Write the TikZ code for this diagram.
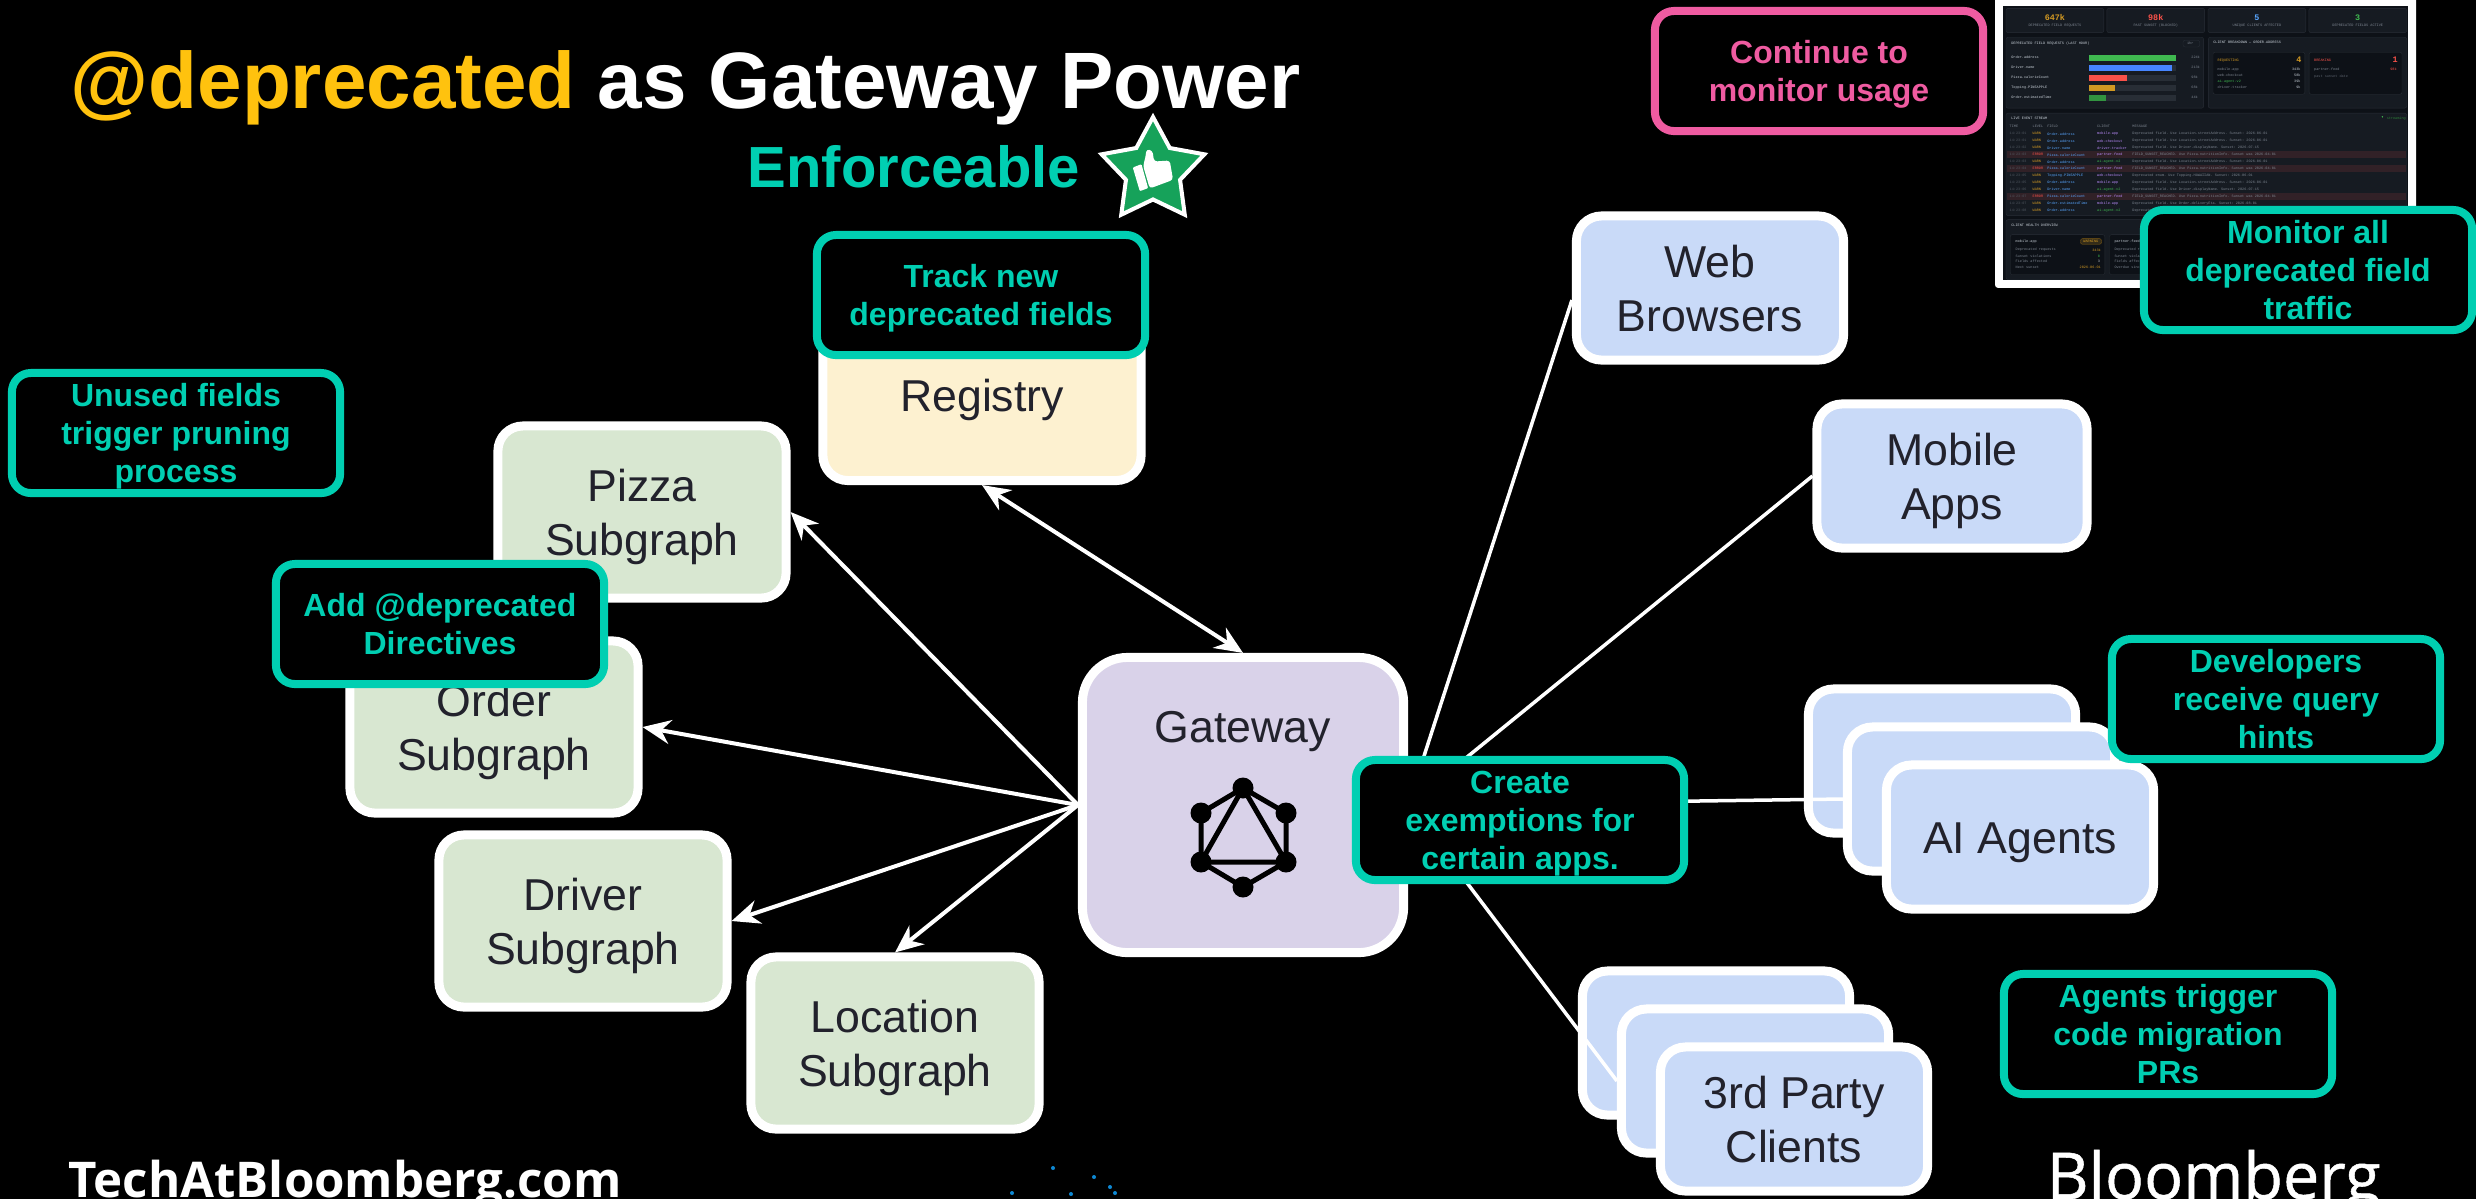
\documentclass[tikz,border=0pt]{standalone}
\usepackage{fontspec}
\setmainfont{Liberation Sans}
\setmonofont{Liberation Mono}
\newfontfamily\techfont{Open Sans}
\newfontfamily\logofont[FakeBold=0.8]{Open Sans}
\usetikzlibrary{arrows.meta, shapes.geometric}

\definecolor{calloutteal}{RGB}{0,207,178}
\definecolor{calloutpink}{RGB}{239,91,161}
\definecolor{titleyellow}{RGB}{255,194,14}
\definecolor{subgraphgreen}{RGB}{216,231,209}
\definecolor{registrycream}{RGB}{253,241,208}
\definecolor{clientblue}{RGB}{201,218,248}
\definecolor{gatewaylilac}{RGB}{217,210,233}
\definecolor{stargreen}{RGB}{22,162,90}
\definecolor{inkdark}{RGB}{34,34,44}
\definecolor{dashbg}{RGB}{13,17,23}
\definecolor{dashpanel}{RGB}{22,27,34}
\definecolor{dashline}{RGB}{40,46,54}
\definecolor{dashgrey}{RGB}{125,133,144}
\definecolor{dashlight}{RGB}{201,209,217}
\definecolor{dashamber}{RGB}{210,153,34}
\definecolor{dashred}{RGB}{248,81,73}
\definecolor{dashblue}{RGB}{88,166,255}
\definecolor{dashgreen}{RGB}{63,185,80}
\definecolor{dashpurple}{RGB}{188,140,255}

\pgfdeclarelayer{background}
\pgfdeclarelayer{edges}
\pgfsetlayers{background,edges,main}

\tikzset{
    svcbox/.style={draw=white, line width=0.09cm, rounded corners=0.25cm, text=inkdark,
        align=center, inner sep=0pt, font=\fontsize{12.7}{15.3}\selectfont},
    oneline/.style={execute at begin node={\rule{0pt}{12.1pt}}, execute at end node={\rule[-3pt]{0pt}{3pt}}},
    twoline/.style={text depth=-0.9pt},
    subgraph/.style={svcbox, twoline, fill=subgraphgreen, minimum width=2.88cm, minimum height=1.72cm},
    client/.style={svcbox, fill=clientblue, minimum width=2.67cm, minimum height=1.44cm},
    callout/.style={draw=calloutteal, fill=black, text=calloutteal, line width=0.08cm,
        rounded corners=0.19cm, align=center, inner sep=0pt, minimum width=3.28cm,
        minimum height=1.2cm, font=\bfseries\fontsize{9.1}{10.8}\selectfont, text depth=-0.9pt},
    link/.style={draw=white, line width=0.04cm},
    clientlink/.style={draw=white, line width=0.035cm},
    dashtext/.style={anchor=west, inner sep=0pt, text=dashlight, font=\ttfamily\fontsize{1}{1.2}\selectfont},
    dashstat/.style={anchor=center, inner sep=0pt, font=\ttfamily\bfseries\fontsize{2.4}{3}\selectfont},
    dashcard/.style={fill=dashpanel, draw=dashline, line width=0.1pt, rounded corners=0.02cm},
}

\begin{document}
\begin{tikzpicture}[x=0.01cm, y=-0.01cm, >={Stealth[length=0.28cm, width=0.24cm]}]
    \useasboundingbox (0,0) rectangle (2476,1199);
    \begin{pgfonlayer}{background}
        \fill[black] (0,0) rectangle (2476,1199);
    \end{pgfonlayer}

    % Title
    \node[anchor=base west, inner sep=0pt, text=white, font=\bfseries\fontsize{22.75}{26}\selectfont] (title) at (70,108)
        {\textcolor{titleyellow}{@deprecated} as Gateway Power};
    \node[anchor=base west, inner sep=0pt, text=calloutteal, font=\bfseries\fontsize{16.5}{20}\selectfont] (enforceable) at (747,187) {Enforceable};

    % Star badge
    \node[star, star points=5, star point ratio=1.9, fill=stargreen, draw=white, line width=0.04cm,
        minimum size=1.08cm, inner sep=0pt] (badge) at (1153,171) {};
    \begin{scope}[shift={(1000,60)}, x=0.00333cm, y=-0.00333cm]
        \fill[white, rounded corners=0.01cm] (399,323) -- (425,313) -- (445,385) -- (420,394) -- cycle;
        \fill[white, rounded corners=0.03cm] (430,318) -- (437,292) -- (440,268) -- (458,272) -- (463,305)
            -- (510,302) -- (520,360) -- (450,386) -- cycle;
    \end{scope}

    % Services
    \node[subgraph] (pizza) at (642,512) {Pizza\\Subgraph};
    \node[subgraph] (order) at (494,727) {Order\\Subgraph};
    \node[subgraph] (driver) at (583,921) {Driver\\Subgraph};
    \node[subgraph] (location) at (895,1043) {Location\\Subgraph};
    \node[svcbox, oneline, fill=registrycream, minimum width=3.18cm, minimum height=1.71cm] (registry) at (982,395) {Registry};
    \node[svcbox, fill=gatewaylilac, rounded corners=0.45cm, minimum width=3.21cm, minimum height=2.95cm] (gateway) at (1243,805) {};
    \node[inner sep=0pt, text=inkdark, font=\fontsize{12.7}{15.3}\selectfont] (gatewaylabel) at (1243,732) {Gateway};

    % GraphQL logo
    \draw[black, line width=0.05cm] (1243,788) -- (1286,813) -- (1286,862) -- (1243,887) -- (1201,862) -- (1201,813) -- cycle;
    \draw[black, line width=0.05cm] (1243,788) -- (1286,862) -- (1201,862) -- cycle;
    \foreach \dotx/\doty in {1243/788, 1286/813, 1286/862, 1243/887, 1201/862, 1201/813}
        \fill[black] (\dotx,\doty) circle (0.105cm);

    % Clients
    \node[client, twoline] (web) at (1710,288) {Web\\Browsers};
    \node[client, twoline, minimum width=2.70cm] (mobile) at (1952,476) {Mobile\\Apps};
    \node[client] (aimid) at (1981,799) {};
    \node[client, oneline] (ai) at (2020,837) {AI Agents};
    \node[client] (thirdmid) at (1755,1081) {};
    \node[client, twoline] (third) at (1794,1119) {3rd Party\\Clients};

    % Connectors
    \begin{pgfonlayer}{edges}
        \node[client] (aiback) at (1942,761) {};
        \node[client] (thirdback) at (1716,1043) {};
        \draw[link, ->] (gateway.west) -- (pizza.east);
        \draw[link, ->] (gateway.west) -- (order.east);
        \draw[link, ->] (gateway.west) -- (driver.east);
        \draw[link, ->] (gateway.west) -- (location.north);
        \draw[link, <->] (registry.south) -- (gateway.north);
        \draw[clientlink] (gateway.east) -- (web.185);
        \draw[clientlink] (gateway.east) -- (mobile.west);
        \draw[clientlink] (gateway.east) -- (aimid.west);
        \draw[clientlink] (gateway.east) -- (thirdmid.west);
    \end{pgfonlayer}

    % Dashboard screenshot
    \begin{scope}[shift={(1980,0)}, x=0.00333cm, y=-0.00333cm]
        \fill[white, rounded corners=0.03cm] (45,-30) rectangle (1310,865);
        \fill[dashbg] (70,18) rectangle (1285,840);

        % Stat cards
        \foreach \cardx/\statval/\statcol/\statname in {78/647k/dashamber/DEPRECATED FIELD REQUESTS, 381/98k/dashred/PAST SUNSET (BLOCKED), 685/5/dashblue/UNIQUE CLIENTS AFFECTED, 988/3/dashgreen/DEPRECATED FIELDS ACTIVE} {
            \draw[dashcard] (\cardx,25) rectangle ++(294,73);
            \node[dashstat, text=\statcol] (stat\cardx) at (\cardx+147,53) {\statval};
            \node[dashtext, anchor=center, text=dashgrey] (statname\cardx) at (\cardx+147,77) {\statname};
        }

        % Panels
        \draw[dashcard] (78,112) rectangle (672,325);
        \draw[dashcard] (686,112) rectangle (1282,325);
        \draw[dashcard] (78,340) rectangle (1282,648);
        \draw[dashcard] (78,660) rectangle (1282,840);

        % Request bars
        \node[dashtext] (barstitle) at (92,131) {DEPRECATED FIELD REQUESTS (LAST HOUR)};
        \draw[dashcard] (610,121) rectangle (660,141);
        \node[dashtext, text=dashgrey] (barsrange) at (620,131) {1hr};
        \foreach \bary/\barend/\barcol/\barname/\barval in {173/590/dashgreen/Order.address/224k, 203/576/dashblue!80!blue/Driver.name/213k, 233/443/dashred/Pizza.calorieCount/98k, 263/407/dashamber/Topping.PINEAPPLE/68k, 293/380/dashgreen!80!black/Order.estimatedTime/44k} {
            \node[dashtext] (barname\bary) at (92,\bary) {\barname};
            \fill[dashline] (328,\bary-9) rectangle (590,\bary+9);
            \fill[\barcol] (328,\bary-9) rectangle (\barend,\bary+9);
            \node[dashtext, text=dashgrey] (barval\bary) at (633,\bary) {\barval};
        }

        % Client breakdown
        \node[dashtext] (breaktitle) at (699,128) {CLIENT BREAKDOWN — ORDER.ADDRESS};
        \draw[dashcard, fill=dashbg] (700,157) rectangle (976,283);
        \draw[dashcard, fill=dashbg] (989,157) rectangle (1268,283);
        \node[dashtext, text=dashamber] (reqlabel) at (712,181) {REQUESTING};
        \node[dashstat, text=dashamber] (reqcount) at (958,180) {4};
        \node[dashtext, text=dashred] (brklabel) at (1002,181) {BREAKING};
        \node[dashstat, text=dashred] (brkcount) at (1247,180) {1};
        \foreach \reqy/\reqcol/\reqname/\reqval in {209/dashgrey/mobile-app/343k, 227/dashgrey/web-checkout/58k, 245/dashgreen/ai-agent-v2/39k, 262/dashgrey/driver-tracker/9k} {
            \node[dashtext, text=\reqcol] (reqname\reqy) at (712,\reqy) {\reqname};
            \node[dashtext, anchor=east] (reqval\reqy) at (965,\reqy) {\reqval};
        }
        \node[dashtext, text=dashgrey] (brkname) at (1002,209) {partner-feed};
        \node[dashtext, anchor=east, text=dashred] (brkval) at (1254,209) {98k};
        \node[dashtext, text=dashline!40!dashgrey] (brknote) at (1002,231) {past sunset date};

        % Event stream
        \node[dashtext] (streamtitle) at (92,355) {LIVE EVENT STREAM};
        \fill[dashgreen] (1209,351) circle (0.008cm);
        \node[dashtext, text=dashgreen!70!black] (streamstate) at (1220,355) {streaming};
        \foreach \colx/\colname in {87/TIME, 156/LEVEL, 200/FIELD, 350/CLIENT, 456/MESSAGE}
            \node[dashtext, text=dashgrey] (col\colname) at (\colx,380) {\colname};
        \foreach \errory in {465, 507, 591}
            \fill[dashred!12!dashpanel] (80,\errory-10) rectangle (1280,\errory+10);
        \foreach \rowy/\rowtime/\lvlcol/\lvlname/\fldname/\clicol/\cliname/\msgtext in {
            402/14:23:01/dashamber/WARN/Order.address/dashpurple/mobile-app/Deprecated field. Use Location.streetAddress. Sunset: 2026-06-01,
            423/14:23:01/dashamber/WARN/Order.address/dashpurple/web-checkout/Deprecated field. Use Location.streetAddress. Sunset: 2026-06-01,
            444/14:23:02/dashamber/WARN/Driver.name/dashpurple/driver-tracker/Deprecated field. Use Driver.displayName. Sunset: 2026-07-15,
            465/14:23:03/dashred/ERROR/Pizza.calorieCount/dashpurple/partner-feed/FIELD\_SUNSET\_REACHED. Use Pizza.nutritionInfo. Sunset was 2026-04-01,
            486/14:23:03/dashamber/WARN/Order.address/dashgreen/ai-agent-v2/Deprecated field. Use Location.streetAddress. Sunset: 2026-06-01,
            507/14:23:04/dashred/ERROR/Pizza.calorieCount/dashpurple/partner-feed/FIELD\_SUNSET\_REACHED. Use Pizza.nutritionInfo. Sunset was 2026-04-01,
            528/14:23:05/dashamber/WARN/Topping.PINEAPPLE/dashpurple/web-checkout/Deprecated enum. Use Topping.HAWAIIAN. Sunset: 2026-06-01,
            549/14:23:05/dashamber/WARN/Order.address/dashpurple/mobile-app/Deprecated field. Use Location.streetAddress. Sunset: 2026-06-01,
            570/14:23:06/dashamber/WARN/Driver.name/dashgreen/ai-agent-v2/Deprecated field. Use Driver.displayName. Sunset: 2026-07-15,
            591/14:23:07/dashred/ERROR/Pizza.calorieCount/dashpurple/partner-feed/FIELD\_SUNSET\_REACHED. Use Pizza.nutritionInfo. Sunset was 2026-04-01,
            612/14:23:07/dashamber/WARN/Order.estimatedTime/dashpurple/mobile-app/Deprecated field. Use Order.deliveryEta. Sunset: 2026-08-01,
            633/14:23:08/dashamber/WARN/Order.address/dashgreen/ai-agent-v2/Deprecated field. Use Location.streetAddress. Sunset: 2026-06-01} {
            \node[dashtext, text=dashgrey!60!dashbg] (rowtime\rowy) at (87,\rowy) {\rowtime};
            \node[dashtext, text=\lvlcol] (rowlevel\rowy) at (156,\rowy) {\lvlname};
            \node[dashtext, text=dashblue] (rowfield\rowy) at (200,\rowy) {\fldname};
            \node[dashtext, text=\clicol] (rowclient\rowy) at (350,\rowy) {\cliname};
            \node[dashtext, text=dashgrey] (rowmsg\rowy) at (456,\rowy) {\msgtext};
        }

        % Client health
        \node[dashtext] (healthtitle) at (92,676) {CLIENT HEALTH OVERVIEW};
        \draw[dashcard, fill=dashbg] (91,705) rectangle (375,825);
        \draw[dashcard, fill=dashbg] (389,705) rectangle (680,825);
        \node[dashtext] (healthapp) at (105,726) {mobile-app};
        \draw[dashamber!60!black, line width=0.1pt, fill=dashamber!20!dashbg, rounded corners=0.02cm] (302,717) rectangle (365,734);
        \node[dashtext, anchor=center, text=dashamber] (healthwarn) at (333,726) {WARNING};
        \node[dashtext] (healthfeed) at (402,726) {partner-feed};
        \foreach \healthy/\healthkey/\healthkeyb/\healthcol/\healthval in {751/Deprecated requests/Deprecated requests/dashamber/343k, 769/Sunset violations/Sunset violations/dashgreen/0, 786/Fields affected/Fields affected/dashlight/3, 804/Next sunset/Overdue since/dashamber/2026-06-01} {
            \node[dashtext, text=dashgrey] (healthkey\healthy) at (105,\healthy) {\healthkey};
            \node[dashtext, anchor=east, text=\healthcol] (healthval\healthy) at (365,\healthy) {\healthval};
            \node[dashtext, text=dashgrey] (healthkeyb\healthy) at (402,\healthy) {\healthkeyb};
        }
    \end{scope}

    % Callouts
    \node[callout] (track) at (981,295) {Track new\\deprecated fields};
    \node[callout] (unused) at (176,433) {Unused fields\\trigger pruning\\process};
    \node[callout] (directives) at (440,624) {Add @deprecated\\Directives};
    \node[callout] (exemptions) at (1520,820) {Create\\exemptions for\\certain apps.};
    \node[callout] (hints) at (2276,699) {Developers\\receive query\\hints};
    \node[callout] (migration) at (2168,1034) {Agents trigger\\code migration\\PRs};
    \node[callout] (monitorall) at (2308,270) {Monitor all\\deprecated field\\traffic};
    \node[callout, draw=calloutpink, text=calloutpink] (continue) at (1819,71) {Continue to\\monitor usage};

    % Footer
    \node[anchor=base west, inner sep=0pt, text=white, font=\techfont\bfseries\fontsize{14}{18}\selectfont] (techsite) at (68,1197) {TechAtBloomberg.com};
    \node[anchor=base west, inner sep=0pt, text=white, font=\logofont\fontsize{18.4}{22}\selectfont] (bloomberg) at (2046,1199) {Bloomberg};
    \foreach \sparkx/\sparky in {1053/1168, 1094/1177, 1110/1187, 1012/1193, 1071/1194, 1115/1193}
        \fill[cyan!70!blue] (\sparkx,\sparky) circle (0.02cm);
\end{tikzpicture}
\end{document}
